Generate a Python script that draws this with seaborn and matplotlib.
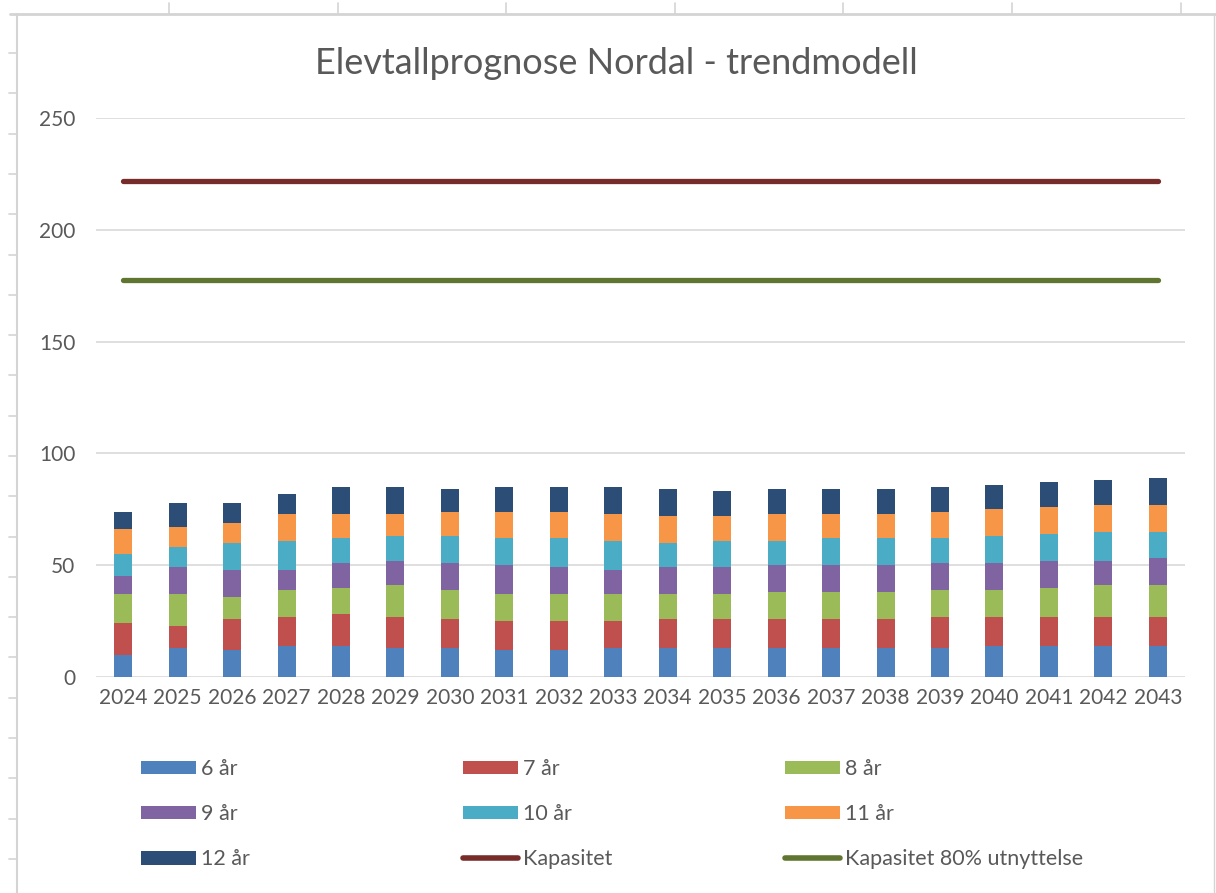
import numpy as np
import pandas as pd
import matplotlib
matplotlib.use("Agg")
import matplotlib.pyplot as plt
from matplotlib.lines import Line2D
from matplotlib.patches import Patch
import seaborn as sns

years = [str(y) for y in range(2024, 2044)]
age_labels = ["6 år", "7 år", "8 år", "9 år", "10 år", "11 år", "12 år"]
age6  = [10, 13, 12, 14, 14, 13, 13, 12, 12, 13, 13, 13, 13, 13, 13, 13, 14, 14, 14, 14]
age7  = [14, 10, 14, 13, 14, 14, 13, 13, 13, 12, 13, 13, 13, 13, 13, 14, 13, 13, 13, 13]
age8  = [13, 14, 10, 12, 12, 14, 13, 12, 12, 12, 11, 11, 12, 12, 12, 12, 12, 13, 14, 14]
age9  = [8, 12, 12, 9, 11, 11, 12, 13, 12, 11, 12, 12, 12, 12, 12, 12, 12, 12, 11, 12]
age10 = [10, 9, 12, 13, 11, 11, 12, 12, 13, 13, 11, 12, 11, 12, 12, 11, 12, 12, 13, 12]
age11 = [11, 9, 9, 12, 11, 10, 11, 12, 12, 12, 12, 11, 12, 11, 11, 12, 12, 12, 12, 12]
age12 = [8, 11, 9, 9, 12, 12, 10, 11, 11, 12, 12, 11, 11, 11, 11, 11, 11, 11, 11, 12]
kapasitet = [222] * 20
kapasitet80 = [177.6] * 20
line_labels = ["Kapasitet", "Kapasitet 80% utnyttelse"]
title = "Elevtallprognose Nordal - trendmodell"

series = [age6, age7, age8, age9, age10, age11, age12]
bar_colors = ["#4F81BD", "#C0504D", "#9BBB59", "#8064A2", "#4BACC6", "#F79646", "#2C4D75"]
line_colors = ["#772C2A", "#5F7530"]

sns.set_theme(style="white")
plt.rcParams["font.family"] = ["Lato", "DejaVu Sans"]
text_color = "#595959"

fig = plt.figure(figsize=(12.16, 8.93), dpi=100)
ax = fig.add_axes([96 / 1216, 1 - 677 / 893, (1185 - 96) / 1216, (677 - 118) / 893])

bottom = np.zeros(len(years))
for vals, col in zip(series, bar_colors):
    sns.barplot(x=years, y=vals, bottom=bottom, color=col, width=0.33,
                errorbar=None, saturation=1, ax=ax, zorder=3, linewidth=0)
    bottom = bottom + np.array(vals)

xpos = np.arange(len(years))
for vals, col in zip([kapasitet, kapasitet80], line_colors):
    sns.lineplot(x=xpos, y=vals, color=col, linewidth=3.8, ax=ax, zorder=4,
                 solid_capstyle="round")

ax.set_ylim(0, 250)
ax.set_xlim(-0.5, len(years) - 0.5)
ax.set_yticks([0, 50, 100, 150, 200, 250])
ax.yaxis.grid(True, color="#D9D9D9", linewidth=1.2, zorder=0)
ax.xaxis.grid(False)
for s in ax.spines.values():
    s.set_visible(False)
ax.tick_params(axis="both", length=0, labelsize=15, labelcolor=text_color)
ax.tick_params(axis="y", pad=15)
ax.tick_params(axis="x", pad=8)
ax.set_xticks(xpos)
ax.set_xticklabels(years)
ax.set_xlabel("")
ax.set_ylabel("")

fig.text(616 / 1216, 1 - 63 / 893, title, ha="center", va="center",
         fontsize=26, color=text_color)

# legend: three columns, row-major
handles = [Patch(facecolor=c, edgecolor="none") for c in bar_colors]
handles += [Line2D([0], [0], color=c, linewidth=4, solid_capstyle="round") for c in line_colors]
labels = age_labels + line_labels
col_x = [141, 463, 785]
for ci in range(3):
    idx = [ci, ci + 3, ci + 6]
    leg = fig.legend([handles[i] for i in idx], [labels[i] for i in idx],
                     loc="upper left", bbox_to_anchor=(col_x[ci] / 1216, 1 - 759 / 893),
                     frameon=False, fontsize=15.5, labelcolor=text_color,
                     handlelength=2.55, handleheight=0.6, handletextpad=0.25,
                     labelspacing=1.17, borderpad=0, borderaxespad=0)

# spreadsheet frame decoration
W, H = 1216, 893
frame_col = "#D4D4D4"
def fl(x0, y0, x1, y1, lw=1.5):
    fig.add_artist(Line2D([x0 / W, x1 / W], [1 - y0 / H, 1 - y1 / H],
                          color=frame_col, linewidth=lw, transform=fig.transFigure))
fl(10, 14, W, 14, 2)
fl(16.5, 14, 16.5, H, 1.5)
fl(1214, 14, 1214, H, 1.0)
for xt in [169, 338, 506, 675, 843, 1012, 1181]:
    fl(xt, 3, xt, 14, 1.2)
y = 53
while y < H:
    fl(9, y, 16, y, 1.2)
    y += 40.3

fig.savefig("out.png", dpi=100, facecolor="white")
